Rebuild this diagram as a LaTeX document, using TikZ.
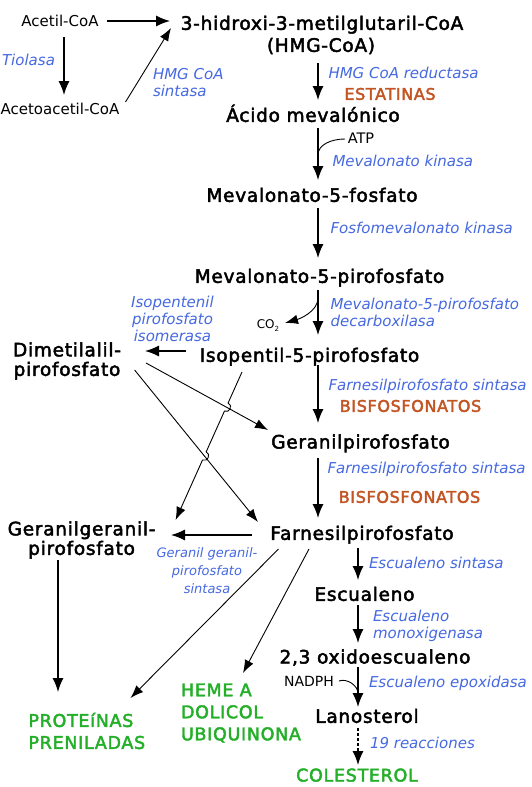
\documentclass[tikz,border=0pt]{standalone}
\usepackage{fontspec}
\setmainfont{DejaVu Sans}
\newfontfamily\metfont{DejaVu Sans}[LetterSpace=4,FakeBold=2.5]
\newfontfamily\tagfont{DejaVu Sans}[LetterSpace=4,FakeBold=2.5]
\usetikzlibrary{arrows.meta,calc,intersections}
\definecolor{enzblue}{RGB}{70,105,225}
\definecolor{inhorange}{RGB}{195,85,35}
\definecolor{prodgreen}{RGB}{35,175,40}

\begin{document}
\begin{tikzpicture}[x=1pt,y=-1pt,
  every node/.style={inner sep=0pt,outer sep=0pt},
  met/.style={font=\metfont\fontsize{18.5}{19.5}\selectfont},
  cof/.style={font=\fontsize{15}{17}\selectfont},
  enz/.style={font=\fontsize{15}{17}\selectfont\itshape,text=enzblue},
  inh/.style={font=\tagfont\fontsize{16}{18}\selectfont,text=inhorange},
  prod/.style={font=\tagfont\fontsize{17.5}{22}\selectfont,text=prodgreen,align=left},
  arr/.style={line width=1.3pt,-{Latex[length=14pt,width=11pt]}},
  tarr/.style={line width=0.9pt,-{Latex[length=13pt,width=9.5pt]}},
  tline/.style={line width=0.9pt},
]
\fill[white] (0,0) rectangle (532,787);
\useasboundingbox (0,0) rectangle (532,787);

% arrow columns
\coordinate (c1) at (318,0);
\coordinate (c2) at (358,0);
\coordinate (c3) at (58,0);

% metabolites, enzymes and inhibitors
\node[cof,anchor=base] (acetil) at (60,26) {Acetil-CoA};
\node[met,anchor=base] (hmga) at (322,29.8) {3-hidroxi-3-metilglutaril-CoA};
\node[met,anchor=base] (hmgb) at (321,51.8) {(HMG-CoA)};
\node[enz,anchor=base] (tiolasa) at (28.5,65.3) {Tiolasa};
\node[cof,anchor=base] (acetoac) at (60,114) {Acetoacetil-CoA};
\node[enz,anchor=west,align=left] (hmgsint) at (153,83) {HMG CoA\\sintasa};
\node[enz,anchor=base west] (hmgred) at (328.5,78.3) {HMG CoA reductasa};
\node[inh,anchor=base] (estat) at (390,99.8) {ESTATINAS};
\node[met,anchor=base] (acido) at (313,121.8) {Ácido mevalónico};
\node[cof,anchor=base,font=\fontsize{14.5}{16}\selectfont] (atp) at (361,143) {ATP};
\node[enz,anchor=base west] (mevkin) at (332.5,166) {Mevalonato kinasa};
\node[met,anchor=base] (mev5p) at (312,201.8) {Mevalonato-5-fosfato};
\node[enz,anchor=base west] (fmk) at (330.5,233.3) {Fosfomevalonato kinasa};
\node[met,anchor=base] (mev5pp) at (319.5,282.8) {Mevalonato-5-pirofosfato};
\node[cof,anchor=base,font=\fontsize{12}{14}\selectfont] (co2) at (268,328) {CO\raisebox{-3pt}{\fontsize{7}{8}\selectfont 2}};
\node[enz,anchor=west,align=left] (decarb) at (330.5,312) {Mevalonato-5-pirofosfato\\decarboxilasa};
\node[enz,align=center] (isom) at (172.5,319) {Isopentenil\\pirofosfato\\isomerasa};
\node[met,align=center] (dimet) at (67,361) {Dimetilalil-\\pirofosfato};
\node[met,anchor=base] (isop) at (309.5,361.8) {Isopentil-5-pirofosfato};
\node[enz,anchor=base west] (fps1) at (328.5,390.3) {Farnesilpirofosfato sintasa};
\node[inh,anchor=base] (bisf1) at (410.5,411.8) {BISFOSFONATOS};
\node[met,anchor=base] (geranil) at (360.5,448.5) {Geranilpirofosfato};
\node[enz,anchor=base west] (fps2) at (327.5,473.3) {Farnesilpirofosfato sintasa};
\node[inh,anchor=base] (bisf2) at (409.5,502.8) {BISFOSFONATOS};
\node[met,align=center] (ggpp) at (81.6,540) {Geranilgeranil-\\pirofosfato};
\node[met,anchor=base] (farnesil) at (362,539.8) {Farnesilpirofosfato};
\node[enz,align=center,font=\fontsize{13}{18}\selectfont\itshape] (ggs) at (207,571) {Geranil geranil-\\pirofosfato\\sintasa};
\node[enz,anchor=base west] (escs) at (369,568.3) {Escualeno sintasa};
\node[met,anchor=base] (escual) at (364.5,600.8) {Escualeno};
\node[enz,anchor=west,align=left] (escmono) at (373,626) {Escualeno\\monoxigenasa};
\node[met,anchor=base] (oxido) at (375,663.5) {2,3 oxidoescualeno};
\node[cof,anchor=base,font=\fontsize{14}{16}\selectfont] (nadph) at (309,686) {NADPH};
\node[enz,anchor=base west] (epox) at (369,687) {Escualeno epoxidasa};
\node[met,anchor=base] (lanost) at (367,722.8) {Lanosterol};
\node[enz,anchor=base west] (reacc) at (370,748.3) {19 reacciones};
\node[prod,anchor=base] (colest) at (357,781.5) {COLESTEROL};
\node[prod,anchor=west] (prot) at (28.5,731) {PROTEíNAS\\PRENILADAS};
\node[prod,anchor=west] (heme) at (181,713) {HEME A\\DOLICOL\\UBIQUINONA};

% acetyl-CoA condensation
\draw[arr] ($(acetil.base)+(47,-5)$) -- ($(hmga.base)+(-152,-8.8)$);
\draw[arr] ($(acetil.base)+(4,11)$) -- ($(acetoac.base)+(4,-19)$);
\draw[tarr] ($(acetoac.base)+(65.5,-12)$) -- ($(hmga.base)+(-151,-1.8)$);

% mevalonate column
\draw[arr] ($(hmgb.base -| c1)+(0,11.2)$) -- ($(acido.base -| c1)+(0,-21.8)$);
\draw[arr] ($(acido.base -| c1)+(0,6.2)$) -- ($(mev5p.base -| c1)+(0,-21.8)$);
\draw[tline] ($(atp.base)+(-16,-4)$) .. controls +(-14,0) and +(0,-10) .. ($(acido.base -| c1)+(0,33)$);
\draw[arr] ($(mev5p.base -| c1)+(0,6.2)$) -- ($(mev5pp.base -| c1)+(0,-24.8)$);
\draw[arr] ($(mev5pp.base -| c1)+(0,7.2)$) -- ($(isop.base -| c1)+(0,-26.8)$);
\draw[tarr] ($(mev5pp.base -| c1)+(0,15)$) .. controls +(0,14) and +(14,-4) .. ($(co2.base)+(17,-5)$);
\draw[arr] ($(isop.base)+(-124,-10.8)$) -- ($(dimet.center)+(78,-10)$);
\draw[arr] ($(isop.base -| c1)+(0,3.2)$) -- ($(geranil.base -| c1)+(0,-25.5)$);
\draw[arr] ($(geranil.base -| c1)+(0,9.5)$) -- ($(farnesil.base -| c1)+(0,-21.8)$);
\draw[arr] ($(farnesil.base)+(-110,-4.8)$) -- ($(ggpp.center)+(89.4,-5)$);

% sterol branch
\draw[arr] ($(farnesil.base -| c2)+(0,8.2)$) -- ($(escual.base -| c2)+(0,-20.8)$);
\draw[arr] ($(escual.base -| c2)+(0,4.2)$) -- ($(oxido.base -| c2)+(0,-20.5)$);
\draw[arr] ($(oxido.base -| c2)+(0,3.5)$) -- ($(lanost.base -| c2)+(0,-15.8)$);
\draw[tline] ($(nadph.base)+(30,-5)$) .. controls +(8,-3) and +(0,-8) .. ($(oxido.base -| c2)+(0,30)$);
\draw[arr,dash pattern=on 3pt off 2pt] ($(lanost.base -| c2)+(0,5.2)$) -- ($(colest.base -| c2)+(0,-16.5)$);

% prenyl branches
\draw[arr] ($(ggpp.center -| c3)+(0,20)$) -- ($(prot.west -| c3)+(0,-39)$);
\draw[tarr,name path=pdg] ($(dimet.center)+(79,2)$) -- ($(geranil.base)+(-92.5,-18.5)$);
\draw[tarr,name path=pdf] ($(dimet.center)+(67.6,9)$) -- ($(farnesil.base)+(-104,-17.8)$);
\coordinate (igS) at ($(isop.base)+(-67.5,10.2)$);
\coordinate (igE) at ($(ggpp.center)+(94,-20)$);
\path[name path=pig] (igS) -- (igE);
\path[name intersections={of=pdg and pig,by=h1}];
\path[name intersections={of=pdf and pig,by=h2}];
\draw[tarr] (igS) -- ($(h1)!4.5pt!(igS)$) to[bend left=90,looseness=1.6] ($(h1)!4.5pt!(igE)$)
  -- ($(h2)!4.5pt!(igS)$) to[bend left=90,looseness=1.6] ($(h2)!4.5pt!(igE)$) -- (igE);
\draw[tarr] ($(farnesil.base)+(-83.5,9.2)$) -- ($(prot.west)+(102,-33)$);
\draw[tarr] ($(farnesil.base)+(-53,9.2)$) -- ($(heme.west)+(62,-40)$);
\end{tikzpicture}
\end{document}
